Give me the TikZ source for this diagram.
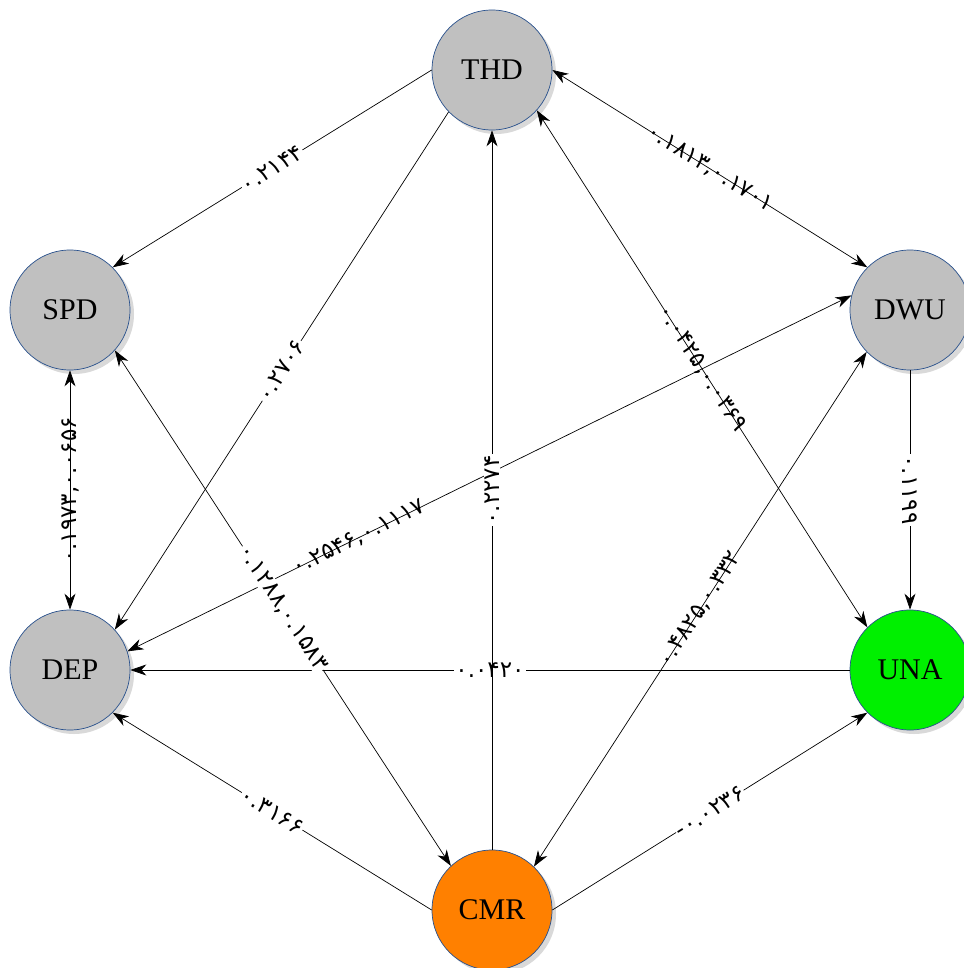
\documentclass[tikz,border=0pt]{standalone}
\usepackage{fontspec}
\setmainfont{Liberation Serif}
\newfontfamily\fanum{DejaVu Sans}
\usetikzlibrary{arrows.meta,shadows}

\definecolor{nodegray}{RGB}{192,192,192}
\definecolor{nodegreen}{RGB}{0,240,0}
\definecolor{nodeorange}{RGB}{255,128,0}
\definecolor{nodeline}{RGB}{40,80,140}

\begin{document}
\begin{tikzpicture}[x=1pt,y=-1pt,
  factor/.style={circle,draw=nodeline,line width=0.7pt,minimum size=120pt,inner sep=0pt,
    font=\fontsize{30}{32}\selectfont,
    drop shadow={shadow xshift=4pt,shadow yshift=-4pt,fill=black!25,opacity=0.6}},
  link/.style={line width=0.7pt,-{Stealth[length=16pt,width=11pt,inset=5pt]}},
  twoway/.style={line width=0.7pt,{Stealth[length=16pt,width=11pt,inset=5pt]}-{Stealth[length=16pt,width=11pt,inset=5pt]}},
  wt/.style={font=\fanum\fontsize{23}{25}\selectfont,inner sep=1pt,fill=white},
  wtline/.style={font=\fanum\fontsize{23}{25}\selectfont,inner sep=1pt}]
				\useasboundingbox (0,0) rectangle (963,968);

				\node[factor,fill=nodegray] (THD) at (492,70) {THD};
				\node[factor,fill=nodegray] (SPD) at (70,310) {SPD};
				\node[factor,fill=nodegray] (DWU) at (910,310) {DWU};
				\node[factor,fill=nodegray] (DEP) at (70,670) {DEP};
				\node[factor,fill=nodegreen] (UNA) at (910,670) {UNA};
				\node[factor,fill=nodeorange] (CMR) at (492,910) {CMR};

				\draw[link] (THD.180) -- (SPD.45) node[midway,sloped,wt] {۰.۲۱۴۴};
				\draw[twoway] (THD.0) -- (DWU.135) node[midway,sloped,wtline] {۰.۱۸۱۳,۰.۱۷۰۱};
				\draw[twoway] (SPD.270) -- (DEP.90) node[midway,rotate=90,wtline] {۰.۱۹۷۳,۰.۰۶۵۶};
				\draw[link] (THD.224) -- (DEP.42) node[midway,sloped,wt] {۰.۲۷۰۶};
				\draw[twoway] (THD.-42) -- (UNA.135) node[midway,sloped,wtline] {۰.۰۴۲۵,۰.۰۳۶۹};
				\draw[link] (DWU.270) -- (UNA.90) node[midway,rotate=-90,wt] {۰.۱۱۹۹};
				\draw[twoway] (DEP.18) -- (DWU.166) node[pos=0.32,sloped,wtline] {۰.۲۵۴۶,۰.۱۱۱۷};
				\draw[link] (UNA.180) -- (DEP.0) node[midway,wt] {۰.۰۴۲۰};
				\draw[twoway] (SPD.-42) -- (CMR.133) node[midway,sloped,wt] {۰.۱۲۸۸,۰.۱۵۸۳};
				\draw[link] (CMR.90) -- (THD.270) node[midway,rotate=90,wt] {۰.۲۲۷۴};
				\draw[twoway] (DWU.224) -- (CMR.46) node[midway,sloped,wtline] {۰.۴۸۲۵,۰.۳۳۲};
				\draw[link] (CMR.180) -- (DEP.-45) node[midway,sloped,wt] {۰.۳۱۶۶};
				\draw[link] (CMR.0) -- (UNA.225) node[midway,sloped,wt] {-۰.۰۲۳۶};
			\end{tikzpicture}
\end{document}
